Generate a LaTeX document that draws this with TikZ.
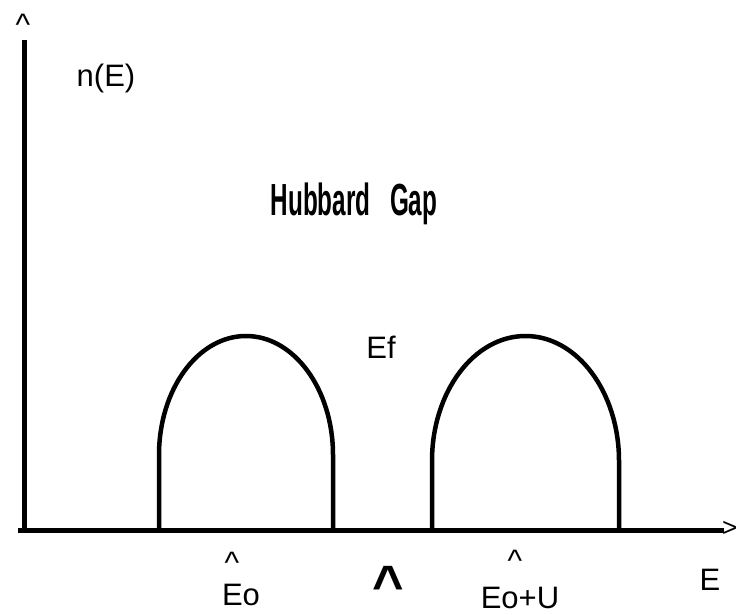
\documentclass[tikz,border=0pt]{standalone}
\usepackage{fontspec}
\setmainfont{Liberation Sans}

\begin{document}
\begin{tikzpicture}[
  x=1pt, y=1pt,
  font=\fontsize{31}{36}\selectfont,
  lbl/.style={inner sep=0pt, anchor=base},
  hat/.style={inner sep=0pt, anchor=base},
  title/.style={inner sep=0pt, anchor=base, xscale=0.54,
    font=\fontsize{45}{50}\selectfont\bfseries},
  axis/.style={line width=5pt},
  band/.style={line width=4.5pt, line join=round}
]
\useasboundingbox (0,0) rectangle (738,614);

% axes
\coordinate (origin) at (24.5,84);
\coordinate (ytop) at (24.5,574);
\coordinate (xleft) at (18,84);
\coordinate (xend) at (724,84);
\draw[axis] (origin) -- (ytop);
\draw[axis] (xleft) -- (xend);
\node[hat] (yhat) at (23,578) {\textasciicircum};
\node[hat, anchor=base east, font=\fontsize{26}{30}\selectfont] (xhat) at (737.5,78) {>};

% lower and upper Hubbard bands
\draw[band] (159,84) -- (159,159)
  arc[start angle=180, end angle=0, x radius=87, y radius=119] -- (333,84);
\draw[band] (432,84) -- (432,153)
  arc[start angle=180, end angle=0, x radius=93.5, y radius=125] -- (619,84);

\node[lbl] (dos) at (106,527) {n(E)};
\node[title] (gap) at (354,399) {Hubbard\hspace{0.8em}Gap};
\node[lbl] (ef) at (381,256) {Ef};

% energies on the axis
\node[hat] (hateo) at (232,41) {\textasciicircum};
\node[lbl] (eo) at (241,9) {Eo};
\node[hat, font=\fontsize{54}{60}\selectfont\bfseries] (hatmid) at (388,11) {\textasciicircum};
\node[hat] (hateou) at (515,43) {\textasciicircum};
\node[lbl] (eou) at (520,6) {Eo+U};
\node[lbl] (elbl) at (710,24) {E};

\end{tikzpicture}
\end{document}
